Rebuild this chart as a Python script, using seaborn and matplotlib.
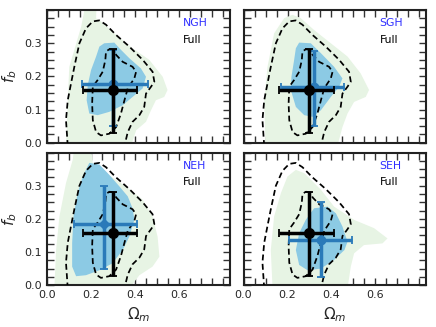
import numpy as np
import matplotlib
matplotlib.use("Agg")
import matplotlib.pyplot as plt
import seaborn as sns

# Ejes / etiquetas
PANELES = ["NGH", "SGH", "NEH", "SEH"]
XTICKS = [0.0, 0.2, 0.4, 0.6]
YTICKS = [0.0, 0.1, 0.2, 0.3]

# Contornos "Full" (iguales en los cuatro paneles)
full_ext_x = [0.094, 0.086, 0.094, 0.109, 0.124, 0.147, 0.177, 0.208, 0.238, 0.268,
              0.314, 0.374, 0.435, 0.480, 0.488, 0.473, 0.450, 0.442, 0.420, 0.389,
              0.367, 0.352]
full_ext_y = [-0.01, 0.068, 0.128, 0.179, 0.229, 0.300, 0.345, 0.366, 0.369, 0.356,
              0.325, 0.290, 0.250, 0.214, 0.184, 0.169, 0.148, 0.108, 0.083, 0.063,
              0.032, -0.01]
full_int_x = [0.283, 0.306, 0.314, 0.344, 0.389, 0.405, 0.397, 0.367, 0.352, 0.336,
              0.314, 0.283, 0.245, 0.223, 0.208, 0.205, 0.208, 0.230, 0.253, 0.265,
              0.268, 0.283]
full_int_y = [0.282, 0.280, 0.265, 0.244, 0.229, 0.214, 0.194, 0.164, 0.128, 0.088,
              0.047, 0.027, 0.022, 0.032, 0.068, 0.118, 0.169, 0.189, 0.214, 0.249,
              0.275, 0.282]

# Regiones 2-sigma (verde) por submuestra
verde_x = {
    "NGH": [0.086, 0.094, 0.101, 0.124, 0.155, 0.170, 0.172, 0.225, 0.223, 0.238, 0.298,
            0.389, 0.465, 0.526, 0.548, 0.533, 0.495, 0.473, 0.450, 0.405, 0.382],
    "SGH": [0.100, 0.094, 0.109, 0.139, 0.185, 0.223, 0.260, 0.321, 0.397, 0.473, 0.533,
            0.571, 0.556, 0.503, 0.473, 0.450, 0.427],
    "NEH": [0.033, 0.041, 0.056, 0.086, 0.117, 0.124, 0.200, 0.208, 0.268, 0.359, 0.435,
            0.480, 0.503, 0.511, 0.480, 0.420, 0.374],
    "SEH": [0.132, 0.124, 0.139, 0.170, 0.200, 0.238, 0.276, 0.352, 0.412, 0.503, 0.594,
            0.655, 0.632, 0.548, 0.503, 0.488, 0.473],
}
verde_y = {
    "NGH": [-0.01, 0.128, 0.229, 0.280, 0.350, 0.400, 0.42, 0.42, 0.375, 0.370, 0.335,
            0.285, 0.250, 0.199, 0.159, 0.138, 0.128, 0.098, 0.063, 0.037, -0.01],
    "SGH": [-0.01, 0.128, 0.229, 0.330, 0.376, 0.386, 0.376, 0.340, 0.300, 0.260, 0.209,
            0.159, 0.138, 0.123, 0.088, 0.047, -0.01],
    "NEH": [-0.01, 0.106, 0.207, 0.308, 0.379, 0.42, 0.42, 0.369, 0.338, 0.298, 0.258,
            0.207, 0.146, 0.086, 0.056, 0.030, -0.01],
    "SEH": [-0.01, 0.106, 0.207, 0.278, 0.328, 0.348, 0.338, 0.288, 0.237, 0.197, 0.172,
            0.141, 0.126, 0.121, 0.096, 0.056, -0.01],
}

# Regiones 1-sigma (azul) por submuestra
azul_x = {
    "NGH": [0.260, 0.306, 0.329, 0.374, 0.427, 0.450, 0.435, 0.389, 0.344, 0.283, 0.230,
            0.192, 0.180, 0.185, 0.200, 0.223, 0.238],
    "SGH": [0.253, 0.306, 0.352, 0.412, 0.450, 0.435, 0.397, 0.352, 0.314, 0.276, 0.238,
            0.215, 0.218, 0.230, 0.238],
    "NEH": [0.192, 0.238, 0.283, 0.329, 0.367, 0.389, 0.397, 0.374, 0.344, 0.298, 0.238,
            0.177, 0.132, 0.114, 0.114, 0.120, 0.139, 0.162],
    "SEH": [0.321, 0.382, 0.420, 0.450, 0.473, 0.459, 0.412, 0.352, 0.291, 0.253, 0.238,
            0.253, 0.283],
}
azul_y = {
    "NGH": [0.300, 0.302, 0.285, 0.255, 0.224, 0.199, 0.164, 0.138, 0.113, 0.093, 0.083,
            0.088, 0.128, 0.174, 0.219, 0.260, 0.290],
    "SGH": [0.302, 0.300, 0.270, 0.229, 0.194, 0.169, 0.138, 0.098, 0.078, 0.083, 0.108,
            0.159, 0.199, 0.249, 0.285],
    "NEH": [0.369, 0.364, 0.333, 0.298, 0.268, 0.232, 0.197, 0.146, 0.106, 0.066, 0.045,
            0.030, 0.027, 0.056, 0.126, 0.207, 0.278, 0.328],
    "SEH": [0.232, 0.237, 0.217, 0.177, 0.131, 0.106, 0.076, 0.050, 0.045, 0.061, 0.106,
            0.157, 0.197],
}

# Mejores ajustes: centro y limites (inferior, superior)
full_om, full_om_lo, full_om_hi = 0.298, 0.162, 0.410
full_fb, full_fb_lo, full_fb_hi = 0.158, 0.028, 0.282

sub_om = {"NGH": 0.300, "SGH": 0.320, "NEH": 0.257, "SEH": 0.353}
sub_om_lo = {"NGH": 0.160, "SGH": 0.170, "NEH": 0.124, "SEH": 0.205}
sub_om_hi = {"NGH": 0.457, "SGH": 0.456, "NEH": 0.410, "SEH": 0.493}
sub_fb = {"NGH": 0.177, "SGH": 0.167, "NEH": 0.185, "SEH": 0.136}
sub_fb_lo = {"NGH": 0.050, "SGH": 0.050, "NEH": 0.048, "SEH": 0.025}
sub_fb_hi = {"NGH": 0.280, "SGH": 0.278, "NEH": 0.300, "SEH": 0.250}
sub_marker = {"NGH": "o", "SGH": "o", "NEH": "D", "SEH": "o"}

COLOR_VERDE = "#e7f4e4"
COLOR_AZUL_FILL = "#8ccae4"
COLOR_AZUL = "#2a7ab9"
COLOR_TEXTO = "#2f2fff"

sns.set_style("ticks")
plt.rcParams["font.family"] = ["DejaVu Sans"]

fig, axes = plt.subplots(2, 2, figsize=(4.36, 3.27), dpi=100, sharex=True, sharey=True)
fig.subplots_adjust(left=0.108, right=0.977, top=0.969, bottom=0.128,
                    wspace=0.077, hspace=0.075)

for ax, nombre in zip(axes.flat, PANELES):
    ax.fill(verde_x[nombre], verde_y[nombre], color=COLOR_VERDE, lw=0, zorder=1)
    ax.fill(azul_x[nombre], azul_y[nombre], color=COLOR_AZUL_FILL, lw=0, zorder=2)

    # contornos Full discontinuos
    sns.lineplot(x=full_ext_x, y=full_ext_y, sort=False, estimator=None, ax=ax,
                 color="black", lw=1.25, dashes=False, zorder=3)
    sns.lineplot(x=full_int_x, y=full_int_y, sort=False, estimator=None, ax=ax,
                 color="black", lw=1.25, dashes=False, zorder=3)
    for ln in ax.lines:
        ln.set_linestyle((0, (3.4, 2.0)))

    om = sub_om[nombre]
    fb = sub_fb[nombre]
    ax.errorbar(om, fb,
                xerr=[[om - sub_om_lo[nombre]], [sub_om_hi[nombre] - om]],
                yerr=[[fb - sub_fb_lo[nombre]], [sub_fb_hi[nombre] - fb]],
                fmt=sub_marker[nombre], color=COLOR_AZUL, ms=6 if nombre != "NEH" else 5.5,
                elinewidth=2.5, capsize=3, capthick=1.3, zorder=4)
    ax.errorbar(full_om, full_fb,
                xerr=[[full_om - full_om_lo], [full_om_hi - full_om]],
                yerr=[[full_fb - full_fb_lo], [full_fb_hi - full_fb]],
                fmt="o", color="black", ms=7, elinewidth=2.5, capsize=3,
                capthick=1.3, zorder=5)

    ax.text(0.745, 0.90, nombre, color=COLOR_TEXTO, fontsize=7.8,
            transform=ax.transAxes, ha="left", va="center")
    ax.text(0.745, 0.775, "Full", color="black", fontsize=7.8,
            transform=ax.transAxes, ha="left", va="center")

    ax.set_xlim(0, 0.83)
    ax.set_ylim(0, 0.40)
    ax.set_xticks(XTICKS)
    ax.set_yticks(YTICKS)
    ax.xaxis.set_minor_locator(matplotlib.ticker.MultipleLocator(0.05))
    ax.yaxis.set_minor_locator(matplotlib.ticker.MultipleLocator(0.025))
    ax.tick_params(which="both", direction="in", top=True, right=True,
                   labelsize=8, width=1, color="#333333")
    ax.tick_params(which="major", length=5)
    ax.tick_params(which="minor", length=5)
    for s in ax.spines.values():
        s.set_linewidth(1.5)
        s.set_color("#222222")
    ax.set_xlabel("")
    ax.set_ylabel("")

for ax in axes[:, 0]:
    ax.set_ylabel(r"$f_b$", fontsize=11)
for ax in axes[1, :]:
    ax.set_xlabel(r"$\Omega_m$", fontsize=11)

fig.savefig("out.png", dpi=100)
